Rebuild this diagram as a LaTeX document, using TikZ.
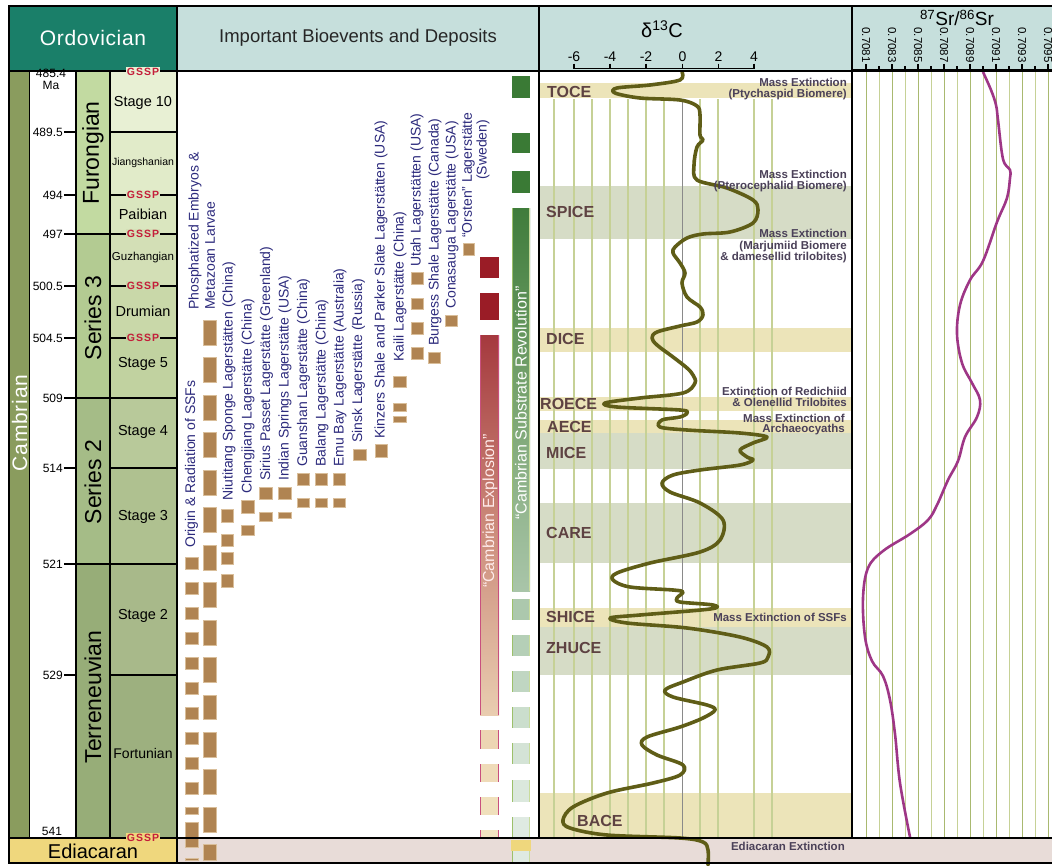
\documentclass[tikz,border=0pt]{standalone}
\usepackage{fontspec}
\setmainfont{Liberation Sans}
\newcommand\fsz[1]{\fontsize{#1}{#1}\selectfont}
\newcommand\lsp[1]{\addfontfeature{LetterSpace=#1}}
\definecolor{hdrgreen}{HTML}{1A7F69}
\definecolor{hdrblue}{HTML}{C6DFDC}
\definecolor{cambcol}{HTML}{8A9C5E}
\definecolor{serF}{HTML}{C2DAA1}
\definecolor{serThree}{HTML}{B3CB92}
\definecolor{serTwo}{HTML}{A5BC87}
\definecolor{serT}{HTML}{97AD78}
\definecolor{stTen}{HTML}{E8F0D4}
\definecolor{stJi}{HTML}{E1EBC9}
\definecolor{stPa}{HTML}{DAE6BF}
\definecolor{stGu}{HTML}{D3DFB6}
\definecolor{stDr}{HTML}{C9D8A9}
\definecolor{stFive}{HTML}{C1D2A0}
\definecolor{stFour}{HTML}{B8C99A}
\definecolor{stThree}{HTML}{AFC190}
\definecolor{stTwo}{HTML}{A8B98A}
\definecolor{stFo}{HTML}{9DB07F}
\definecolor{ediac}{HTML}{EFD77D}
\definecolor{pinkrow}{HTML}{E8DCD8}
\definecolor{boxbrown}{HTML}{B08452}
\definecolor{boxedge}{HTML}{D9BE9A}
\definecolor{txtblue}{HTML}{2D2B7D}
\definecolor{bandY}{HTML}{ECE4B9}
\definecolor{bandG}{HTML}{D6DCC6}
\definecolor{bandtxt}{HTML}{5E4242}
\definecolor{exttxt}{HTML}{4B4159}
\definecolor{curveol}{HTML}{5F5D17}
\definecolor{gridl}{HTML}{C6D196}
\definecolor{gridd}{HTML}{A9B970}
\definecolor{zerol}{HTML}{8A8A8A}
\definecolor{srpurple}{HTML}{9E3686}
\definecolor{gsspred}{HTML}{C41E3A}
\definecolor{reddark}{HTML}{9A1C26}
\definecolor{redtop}{HTML}{A5393E}
\definecolor{redmid}{HTML}{CB8A7A}
\definecolor{redbot}{HTML}{E9CDB0}
\definecolor{rededge}{HTML}{C8507E}
\definecolor{grdark}{HTML}{3A7A35}
\definecolor{grtop}{HTML}{3F7C3B}
\definecolor{grmid}{HTML}{79A470}
\definecolor{grbot}{HTML}{A9C5A9}
\definecolor{gredgeL}{HTML}{9CC06A}
\definecolor{gredgeR}{HTML}{C9DC9C}
\tikzset{
  ev/.style={font=\fsz{14}, text=txtblue, rotate=90, anchor=west, inner sep=0pt},
  bx/.style={fill=boxbrown, draw=boxedge, line width=0.5pt},
  bandlbl/.style={font=\bfseries\fsz{16}, text=bandtxt, anchor=base west, inner sep=0pt},
  extlbl/.style={font=\bfseries\fsz{11.5}, text=exttxt, anchor=base east, inner sep=0pt},
  agelbl/.style={font=\fsz{12}, anchor=east, inner sep=0pt},
  gssp/.style={font=\bfseries\fsz{10.5}\lsp{10}, text=gsspred, inner sep=0.8pt},
  stagelbl/.style={font=\fsz{14.5}, inner sep=0pt},
  serlbl/.style={font=\fsz{23}, rotate=90, inner sep=0pt},
  frame/.style={line width=2pt, black},
  sepl/.style={line width=1.3pt, black},
  tickl/.style={line width=1.2pt, black},
  srlbl/.style={font=\fsz{11.5}, rotate=-90, inner sep=0pt},
  barlbl/.style={font=\fsz{16}, rotate=90, inner sep=0pt},
}
\begin{document}
\begin{tikzpicture}[x=1pt,y=-1pt]
\useasboundingbox (0,0) rectangle (1052,865);
\fill[white] (0,0) rectangle (1052,865);
% ---------------- header
\fill[hdrgreen] (9,6) rectangle (176.5,71);
\fill[hdrblue] (176.5,6) rectangle (1052,71);
\node[font=\fsz{21}\lsp{3}, text=white] (hOrd) at (93,38) {Ordovician};
\node[font=\fsz{18.5}, text=black!85] (hBio) at (358,38) {Important Bioevents and Deposits};
\node[font=\fsz{20}] (hC) at (662,29) {δ\textsuperscript{13}C};
\node[font=\fsz{19}] (hSr) at (957,18) {\textsuperscript{87}Sr/\textsuperscript{86}Sr};
% d13C axis
\draw[line width=1.2pt] (574,68.5) -- (754,68.5);
\foreach \xx/\lab/\nm in {574/-6/t1,610/-4/t2,646/-2/t3,682.5/0/t4,718.5/2/t5,754/4/t6}{
  \draw[line width=1.2pt] (\xx,63.5) -- (\xx,68.5);
  \node[font=\fsz{14}, inner sep=0pt] (\nm) at (\xx,57) {\lab};
}
% Sr axis
\draw[line width=1.4pt] (852,70) -- (1052,70);
\foreach \k in {0,...,14}{
  \pgfmathsetmacro{\xx}{866+13*\k}
  \pgfmathsetmacro{\tl}{ifthenelse(mod(\k,2)==0,64,66)}
  \draw[line width=1.1pt] (\xx,\tl) -- (\xx,70);
}
\foreach \xx/\lab/\nm in {866/0.7081/s1,892/0.7083/s2,918/0.7085/s3,944/0.7087/s4,970/0.7089/s5,996/0.7091/s6,1022/0.7093/s7,1048/0.7095/s8}
  \node[srlbl] (\nm) at (\xx,45) {\lab};
% ---------------- left chronostrat columns
\fill[cambcol] (9,71) rectangle (29.5,838);
\fill[serF] (76,71) rectangle (110,234);
\fill[serThree] (76,234) rectangle (110,398);
\fill[serTwo] (76,398) rectangle (110,564);
\fill[serT] (76,564) rectangle (110,838);
\fill[stTen] (110,71) rectangle (176.5,132);
\fill[stJi] (110,132) rectangle (176.5,195);
\fill[stPa] (110,195) rectangle (176.5,234);
\fill[stGu] (110,234) rectangle (176.5,286);
\fill[stDr] (110,286) rectangle (176.5,338);
\fill[stFive] (110,338) rectangle (176.5,398);
\fill[stFour] (110,398) rectangle (176.5,468);
\fill[stThree] (110,468) rectangle (176.5,564);
\fill[stTwo] (110,564) rectangle (176.5,675);
\fill[stFo] (110,675) rectangle (176.5,838);
\fill[ediac] (9,838) rectangle (176.5,862);
\fill[pinkrow] (176.5,838) rectangle (1052,862);
% ---------------- d13C bands
\fill[bandY] (540,83) rectangle (851,98);
\fill[bandG] (540,186) rectangle (851,239);
\fill[bandY] (540,328) rectangle (851,352);
\fill[bandY] (540,397) rectangle (851,411);
\fill[bandY] (540,420) rectangle (851,433);
\fill[bandG] (540,433) rectangle (851,469);
\fill[bandG] (540,503) rectangle (851,563);
\fill[bandY] (540,608) rectangle (851,627);
\fill[bandG] (540,627) rectangle (851,675);
\fill[bandY] (540,793) rectangle (851,838);
% grid lines d13C
\foreach \gx in {554,574,592,610,628,646,664,700,718,754,772}
  \draw[gridl, line width=1.1pt] (\gx,99) -- (\gx,838);
\draw[zerol, line width=1.4pt] (682.5,99) -- (682.5,838);
% grid lines Sr
\foreach \k in {0,...,14}{
  \pgfmathsetmacro{\xx}{866+13*\k}
  \ifodd\k \draw[gridl, line width=1pt] (\xx,72) -- (\xx,838);
  \else \draw[gridd, line width=1pt] (\xx,72) -- (\xx,838); \fi
}
% ---------------- bioevent boxes
\foreach \a/\b in {557/569,582/594,607/619,632/644,657/669,682/694,707/719,732/744,757/769,782/794,807/814,822/847,858/860}
  \draw[bx] (185,\a) rectangle (198,\b);
\foreach \a/\b in {320/345,357/382,395/420,432/457,470/495,507/532,545/570,582/607,620/645,657/682,695/719,732/757,769/794,807/832,844/860}
  \draw[bx] (203,\a) rectangle (216,\b);
\foreach \a/\b in {509/522,534/546,552/564,574/587}
  \draw[bx] (221,\a) rectangle (233,\b);
\foreach \a/\b in {500/513,525/535}
  \draw[bx] (241,\a) rectangle (254,\b);
\foreach \a/\b in {487/499,512/521}
  \draw[bx] (259,\a) rectangle (272,\b);
\foreach \a/\b in {487/499,512/518}
  \draw[bx] (278,\a) rectangle (291,\b);
\foreach \xa in {297,315,333}{
  \draw[bx] (\xa,473) rectangle (\xa+12.5,485);
  \draw[bx] (\xa,498) rectangle (\xa+12.5,507);
}
\draw[bx] (353,449) rectangle (366,460);
\draw[bx] (375,444) rectangle (387,457);
\foreach \a/\b in {376/387,403/411,416/422}
  \draw[bx] (393,\a) rectangle (406,\b);
\foreach \a/\b in {272/284,298/309,322/334,347/359}
  \draw[bx] (411,\a) rectangle (423,\b);
\draw[bx] (428,352) rectangle (440,363);
\draw[bx] (445,315) rectangle (457,326);
\draw[bx] (463,243) rectangle (474,255);
% bioevent labels
\node[ev] (e1) at (191.5,548) {Origin \& Radiation of SSFs};
\node[ev] (e2a) at (195,310) {Phosphatized Embryos \&};
\node[ev] (e2b) at (210,310) {Metazoan Larvae};
\node[ev] (e3) at (229,501) {Niutitang Sponge Lagerstätten (China)};
\node[ev] (e4) at (248,494) {Chengjiang Lagerstätte (China)};
\node[ev] (e5) at (266.5,481) {Sirius Passet Lagerstätte (Greenland)};
\node[ev] (e6) at (285,481) {Indian Springs Lagerstätte (USA)};
\node[ev] (e7) at (303.5,467) {Guanshan Lagerstätte (China)};
\node[ev] (e8) at (322,467) {Balang Lagerstätte (China)};
\node[ev] (e9) at (340,467) {Emu Bay Lagerstätte (Australia)};
\node[ev] (e10) at (358.5,443) {Sinsk Lagerstätte (Russia)};
\node[ev] (e11) at (381,439) {Kinzers Shale and Parker Slate Lagerstätten (USA)};
\node[ev] (e12) at (400,362) {Kaili Lagerstätte (China)};
\node[ev] (e13) at (417,267) {Utah Lagerstätten (USA)};
\node[ev] (e14) at (435,346) {Burgess Shale Lagerstätte (Canada)};
\node[ev] (e15) at (452,309) {Conasauga Lagerstätte (USA)};
\node[ev] (e16a) at (468.5,238) {“Orsten” Lagerstätte};
\node[ev] (e16b) at (483,180) {(Sweden)};
% ---------------- Cambrian Explosion bar
\fill[reddark] (480,257) rectangle (499,278);
\fill[reddark] (480,293) rectangle (499,320);
\shade[top color=redtop, bottom color=redbot, middle color=redmid] (480,335) rectangle (499,715);
\foreach \a/\b/\c in {730/749/EDD5B3,764/782/EFDBB8,797/815/F0E0BC,830/838/F1E3C0}{
  \definecolor{segc}{HTML}{\c}
  \fill[segc] (480,\a) rectangle (499,\b);
  \draw[rededge, line width=1.2pt] (480.6,\a) -- (480.6,\b) (498.4,\a) -- (498.4,\b);
}
\draw[rededge, line width=1.2pt] (480.6,335) -- (480.6,715) (498.4,335) -- (498.4,715);
\node[barlbl, text=white!92!red] (cexp) at (490,511) {“Cambrian Explosion”};
% ---------------- Substrate revolution bar
\foreach \a/\b in {76/98,133/153,171/193}
  \fill[grdark] (512,\a) rectangle (530,\b);
\shade[top color=grtop, bottom color=grbot, middle color=grmid] (512,208) rectangle (530,591);
\foreach \a/\b/\c in {599/620/ACC8AD,635/656/B5CFB7,671/692/C0D6C2,707/728/CBDECD,743/764/D4E3D6,780/802/DBE8DD,817/838/DFEAE2,851/862/DFEAE2}{
  \definecolor{segc}{HTML}{\c}
  \fill[segc] (512,\a) rectangle (530,\b);
  \draw[gredgeL, line width=1.2pt] (512.6,\a) -- (512.6,\b);
  \draw[gredgeR, line width=1.2pt] (529.4,\a) -- (529.4,\b);
}
\draw[gredgeL, line width=1.2pt] (512.6,208) -- (512.6,591);
\draw[gredgeR, line width=1.2pt] (529.4,208) -- (529.4,591);
\fill[ediac] (511,840) rectangle (531,851);
\node[barlbl, text=white] (csr) at (521,403) {“Cambrian Substrate Revolution”};
% ---------------- curves
\draw[curveol, line width=3.6pt, line join=round, line cap=round] plot[smooth, tension=0.55] coordinates {
(682,72) (680,80) (650,85) (617,88) (615,93) (640,98) (680,100) (697,106) (700,115) (700,135) (703,140) (697,147) (694,165) (697,180) (727,188) (753,200) (758,210) (753,223) (730,232) (703,234) (687,238) (675,247) (673,253) (680,263) (685,273) (682,283) (687,297) (700,307) (703,315) (697,322) (680,326) (657,332) (652,338) (657,345) (673,357) (687,368) (693,375) (695,383) (683,393) (640,398) (605,403) (617,407) (680,410) (687,413) (680,417) (662,420) (660,427) (687,430) (740,433) (767,437) (753,443) (740,450) (747,457) (753,460) (740,465) (700,470) (673,475) (662,483) (670,492) (700,503) (723,520) (720,540) (700,552) (650,563) (617,573) (613,580) (630,587) (673,590) (683,592) (677,598) (680,602) (713,605) (710,609) (640,615) (610,618) (627,623) (687,628) (740,637) (767,647) (768,657) (760,663) (717,670) (683,682) (665,690) (673,697) (707,705) (715,710) (703,718) (680,727) (647,737) (642,745) (657,755) (683,765) (680,775) (653,783) (607,793) (573,807) (563,820) (570,828) (607,835) (680,838) (703,842) (708,850) (708,865)};
\draw[srpurple, line width=2.6pt, line join=round] plot[smooth, tension=0.6] coordinates {
(983,72) (991,90) (996,105) (998,120) (1003,159) (1010,170) (1010,178) (1007,198) (997,222) (983,261) (970,280) (960,305) (957,334) (962,363) (972,383) (980,400) (977,417) (965,437) (958,461) (948,480) (937,505) (928,520) (910,534) (883,551) (868,568) (863,598) (865,637) (872,661) (883,676) (890,700) (895,734) (900,783) (910,837)};
% ---------------- d13C labels
\node[bandlbl] (bTOCE) at (547,97.5) {TOCE};
\node[bandlbl] (bSPICE) at (546,217.5) {SPICE};
\node[bandlbl] (bDICE) at (546,344.5) {DICE};
\node[bandlbl] (bROECE) at (540,409.5) {ROECE};
\node[bandlbl] (bAECE) at (547,432.5) {AECE};
\node[bandlbl] (bMICE) at (546,458.5) {MICE};
\node[bandlbl] (bCARE) at (546,538.5) {CARE};
\node[bandlbl] (bSHICE) at (546,622.5) {SHICE};
\node[bandlbl] (bZHUCE) at (546,653.5) {ZHUCE};
\node[bandlbl] (bBACE) at (577,826.5) {BACE};
\node[extlbl] (x1a) at (847,86) {Mass Extinction};
\node[extlbl] (x1b) at (847,97) {(Ptychaspid Biomere)};
\node[extlbl] (x2a) at (847,178) {Mass Extinction};
\node[extlbl] (x2b) at (847,189) {(Pterocephalid Biomere)};
\node[extlbl] (x3a) at (847,237) {Mass Extinction};
\node[extlbl] (x3b) at (847,249) {(Marjumiid Biomere};
\node[extlbl] (x3c) at (847,260) {\& damesellid trilobites)};
\node[extlbl] (x4a) at (847,395) {Extinction of Redichiid};
\node[extlbl] (x4b) at (847,406) {\& Olenellid Trilobites};
\node[extlbl] (x5a) at (845,422) {Mass Extinction of};
\node[extlbl] (x5b) at (845,432) {Archaeocyaths};
\node[extlbl] (x6) at (847,621) {Mass Extinction of SSFs};
\node[extlbl] (x7) at (845,850) {Ediacaran Extinction};
% ---------------- ages, ticks and boundaries
\node[font=\fsz{12}, inner sep=0pt] (a0) at (51,73.5) {485.4};
\node[font=\fsz{12}, inner sep=0pt] (a0m) at (51,85.5) {Ma};
\foreach \yy/\lab/\nm in {132/489.5/a1,195/494/a2,234/497/a3,286/500.5/a4,338/504.5/a5,398/509/a6,468/514/a7,564/521/a8,675/529/a9}{
  \node[agelbl] (\nm) at (63,\yy) {\lab};
  \draw[tickl] (64,\yy) -- (76,\yy);
}
\node[font=\fsz{12}, inner sep=0pt] (a10) at (52,831) {541};
\foreach \yy in {234,398,564}
  \draw[tickl] (76,\yy) -- (110,\yy);
\foreach \yy in {132,195,234,286,338,398,468,564,675}
  \draw[tickl] (110,\yy) -- (176.5,\yy);
\draw[sepl] (29.5,71) -- (29.5,838);
\draw[sepl] (76,71) -- (76,838);
\draw[sepl] (110,71) -- (110,838);
% frame
\draw[frame] (9,71) -- (1052,71);
\draw[frame] (9,838) -- (1052,838);
\draw[line width=2.5pt] (8,6) -- (1052,6);
\draw[frame] (8,862.5) -- (1052,862.5);
\draw[frame] (9,5) -- (9,863.5);
\draw[frame] (176.5,5) -- (176.5,863);
\draw[frame] (539,5) -- (539,838);
\draw[frame] (852,5) -- (852,838);
% GSSP marks
\node[gssp, fill=stTen] (g1) at (143,72) {GSSP};
\node[gssp, fill=stPa] (g2) at (143,195) {GSSP};
\node[gssp, fill=stGu] (g3) at (143,234) {GSSP};
\node[gssp, fill=stDr] (g4) at (143,286) {GSSP};
\node[gssp, fill=stFive] (g5) at (143,338) {GSSP};
\node[gssp, fill=ediac] (g6) at (143,838) {GSSP};
% column labels
\node[font=\fsz{21}\lsp{4}, text=white, rotate=90, inner sep=0pt] (lCamb) at (19.5,423) {Cambrian};
\node[serlbl] (lFur) at (93,153) {Furongian};
\node[serlbl] (lS3) at (93,318) {Series 3};
\node[serlbl] (lS2) at (93,482) {Series 2};
\node[serlbl] (lTer) at (93,697) {Terreneuvian};
\node[stagelbl] (st10) at (143,103) {Stage 10};
\node[font=\fsz{10.5}, inner sep=0pt] (stJ) at (143,163) {Jiangshanian};
\node[stagelbl] (stP) at (143,214) {Paibian};
\node[font=\fsz{11.5}, inner sep=0pt] (stG) at (143,258) {Guzhangian};
\node[stagelbl] (stD) at (143,311) {Drumian};
\node[stagelbl] (st5) at (143,364) {Stage 5};
\node[stagelbl] (st4) at (143,432) {Stage 4};
\node[stagelbl] (st3) at (143,517) {Stage 3};
\node[stagelbl] (st2) at (143,616) {Stage 2};
\node[font=\fsz{14}, inner sep=0pt] (stF) at (143,753) {Fortunian};
\node[font=\fsz{20}, inner sep=0pt] (lEdi) at (93,851) {Ediacaran};
\end{tikzpicture}
\end{document}
